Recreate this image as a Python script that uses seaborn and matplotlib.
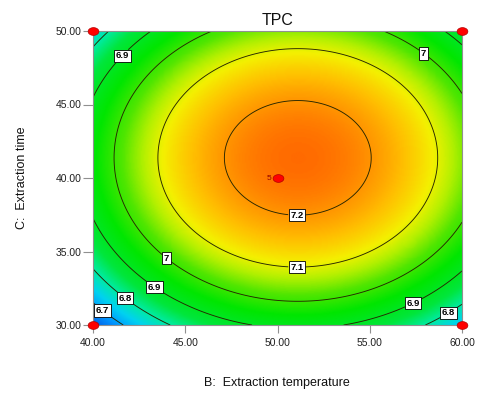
import numpy as np
import pandas as pd
import matplotlib
matplotlib.use("Agg")
import matplotlib.pyplot as plt
import matplotlib.path as mpath
from matplotlib.colors import LinearSegmentedColormap
import seaborn as sns

# ---------------- data ----------------
title = "TPC"
x_label = "B:  Extraction temperature"
y_label = "C:  Extraction time"
x_ticks = [40, 45, 50, 55, 60]
y_ticks = [30, 35, 40, 45, 50]

# quadratic response-surface model
model_max = 7.238
center_B = 51.1
center_C = 41.37
curv_B = 0.0024
curv_C = 0.0025

levels = [6.7, 6.8, 6.9, 7.0, 7.1, 7.2]

design_B = [40, 40, 60, 60, 50]
design_C = [30, 50, 30, 50, 40]
center_reps = "5"

# colour stops (response value -> colour), Design-Expert style
cmap_values = [6.62, 6.68, 6.74, 6.80, 6.86, 6.95, 7.02, 7.07, 7.11, 7.16, 7.20, 7.24]
cmap_colors = ["#0060e6", "#0096ff", "#00d2f0", "#00eba0", "#00e63c", "#00e600",
               "#50e600", "#b4f000", "#f4f000", "#ffc000", "#ff9600", "#ff6a00"]

# ---------------- figure ----------------
sns.set_theme(style="white")
plt.rcParams["font.family"] = ["Liberation Sans Narrow", "Liberation Sans", "DejaVu Sans"]

fig = plt.figure(figsize=(4.86, 3.94), dpi=100)
ax = fig.add_axes([93 / 486, 1 - 325 / 394, 369 / 486, 294 / 394])

B = np.linspace(40, 60, 241)
C = np.linspace(30, 50, 241)
BB, CC = np.meshgrid(B, C)
Z = model_max - curv_B * (BB - center_B) ** 2 - curv_C * (CC - center_C) ** 2

vmin, vmax = cmap_values[0], cmap_values[-1]
pos = [(v - vmin) / (vmax - vmin) for v in cmap_values]
cmap = LinearSegmentedColormap.from_list("dx", list(zip(pos, cmap_colors)))

ax.imshow(Z, origin="lower", extent=[40, 60, 30, 50], aspect="auto",
          cmap=cmap, vmin=vmin, vmax=vmax, interpolation="bilinear", zorder=1)

cs = ax.contour(BB, CC, Z, levels=levels, colors="#262600", linewidths=0.65, zorder=2)

label_pos = [(41.25, 48.7), (58.0, 48.6), (51.05, 37.5), (51.05, 33.95),
             (44.2, 34.9), (43.5, 32.9), (41.95, 32.2), (40.76, 31.4),
             (57.3, 31.6), (59.2, 31.0)]
labels = ax.clabel(cs, levels, manual=label_pos, inline=True, inline_spacing=2,
                   fmt=lambda v: f"{v:g}", fontsize=6.8, colors="black")
for t in labels:
    t.set_fontweight("bold")
    t.set_family(["Liberation Sans", "DejaVu Sans"])
    t.set_bbox(dict(boxstyle="square,pad=0.18", fc="white", ec="black", lw=0.6))
    t.set_rotation(0)
    t.set_zorder(4)

# design points (ellipse markers)
theta = np.linspace(0, 2 * np.pi, 40)
ell = mpath.Path(np.column_stack([np.cos(theta), 0.72 * np.sin(theta)]), closed=True)
df = pd.DataFrame({"B": design_B, "C": design_C})
sns.scatterplot(data=df, x="B", y="C", ax=ax, marker=ell, s=60, color="#ff0000",
                edgecolor="#b00000", linewidth=0.5, zorder=6, legend=False)
for coll in ax.collections[-1:]:
    coll.set_clip_on(False)
ax.text(design_B[-1] - 0.35, design_C[-1], center_reps, ha="right", va="center",
        fontsize=6, color="#900000", zorder=6)

ax.set_xlabel("")
ax.set_ylabel("")
ax.set_xlim(40, 60)
ax.set_ylim(30, 50)
ax.set_xticks(x_ticks)
ax.set_yticks(y_ticks)
ax.set_xticklabels([f"{v:.2f}" for v in x_ticks])
ax.set_yticklabels([f"{v:.2f}" for v in y_ticks])
ax.tick_params(axis="x", bottom=True, length=5.5, width=0.8, color="#909090",
               pad=4, labelsize=7.5, labelcolor="#202020")
ax.tick_params(axis="y", left=True, length=7, width=0.8, color="#909090",
               pad=1.5, labelsize=7.5, labelcolor="#202020")
for s in ax.spines.values():
    s.set_color("#909090")
    s.set_linewidth(0.8)

ax.set_title(title, fontsize=11.5, pad=4, color="#101010",
             family=["Liberation Sans", "DejaVu Sans"])
fig.text(277 / 486, 1 - 383 / 394, x_label, ha="center", va="center",
         fontsize=9, color="#101010")
fig.text(22 / 486, 1 - 178 / 394, y_label, ha="center", va="center",
         rotation=90, fontsize=9, color="#101010")

fig.savefig("out.png", dpi=100)
